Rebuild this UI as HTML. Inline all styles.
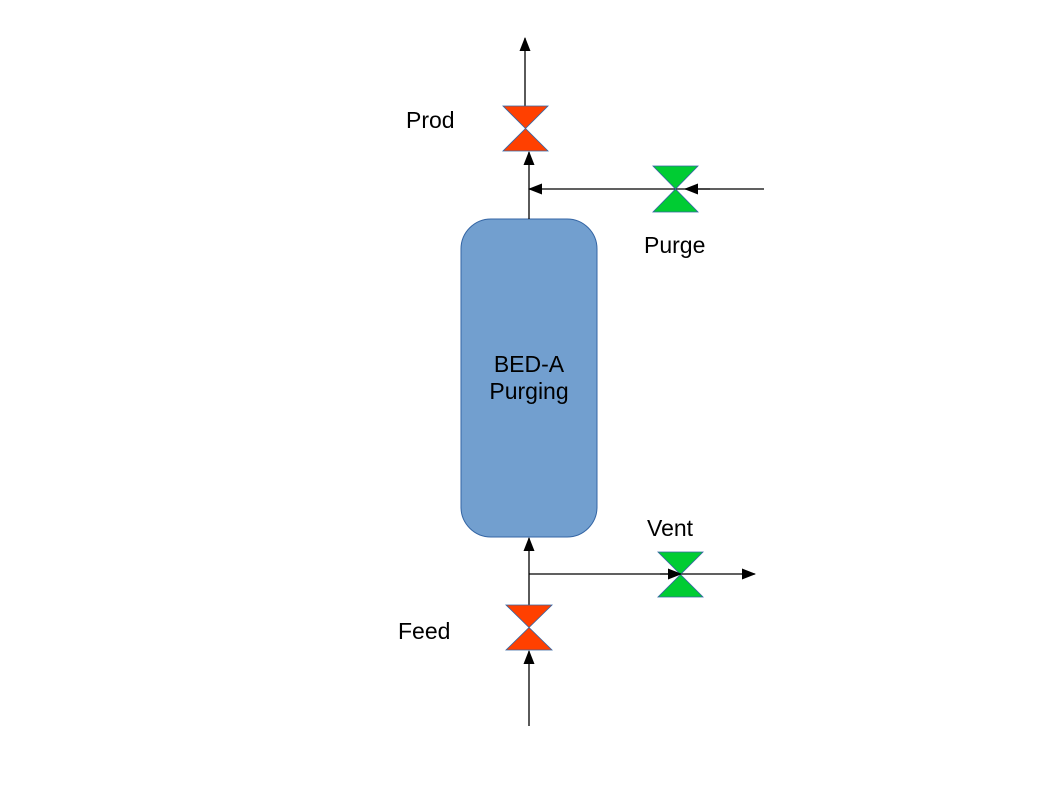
<!DOCTYPE html>
<html><head><style>body{margin:0;background:#fff}svg{display:block}text{font-family:"Liberation Sans",sans-serif;font-size:23px;fill:#000}</style></head>
<body>
<svg width="1058" height="794" viewBox="0 0 1058 794">
<defs><marker id="a" markerWidth="14" markerHeight="11" refX="13" refY="5.5" orient="auto" markerUnits="userSpaceOnUse"><path d="M0,0L14,5.5L0,11z" fill="#000"/></marker></defs>
<rect x="461" y="219" width="136" height="318" rx="30" fill="#729fcf" stroke="#3465a4"/>
<text x="529" y="372" text-anchor="middle">BED-A</text>
<text x="529" y="399" text-anchor="middle">Purging</text>
<g stroke="#000" stroke-width="1.3" fill="none">
<line x1="525" y1="106" x2="525" y2="38" marker-end="url(#a)"/>
<line x1="529" y1="219" x2="529" y2="152" marker-end="url(#a)"/>
<line x1="764" y1="189" x2="676" y2="189"/>
<line x1="676" y1="189" x2="529" y2="189" marker-end="url(#a)"/>
<line x1="529" y1="726" x2="529" y2="651" marker-end="url(#a)"/>
<line x1="529" y1="605" x2="529" y2="538" marker-end="url(#a)"/>
<line x1="529" y1="574" x2="680" y2="574"/>
<line x1="680" y1="574" x2="755" y2="574" marker-end="url(#a)"/>
</g>
<path d="M503,106L548,106L503,151L548,151z" fill="#ff4000" stroke="#3465a4" stroke-width="0.8"/>
<path d="M506,605L552,605L506,650L552,650z" fill="#ff4000" stroke="#3465a4" stroke-width="0.8"/>
<path d="M653,166L698,166L653,212L698,212z" fill="#00cc33" stroke="#3465a4" stroke-width="0.8"/>
<path d="M658,552L703,552L658,597L703,597z" fill="#00cc33" stroke="#3465a4" stroke-width="0.8"/>
<line x1="710" y1="189" x2="685" y2="189" stroke="#000" stroke-width="1.3" marker-end="url(#a)"/>
<line x1="660" y1="574" x2="681" y2="574" stroke="#000" stroke-width="1.3" marker-end="url(#a)"/>
<text x="406" y="128">Prod</text>
<text x="644" y="253">Purge</text>
<text x="647" y="536">Vent</text>
<text x="398" y="639">Feed</text>
</svg>
</body></html>
